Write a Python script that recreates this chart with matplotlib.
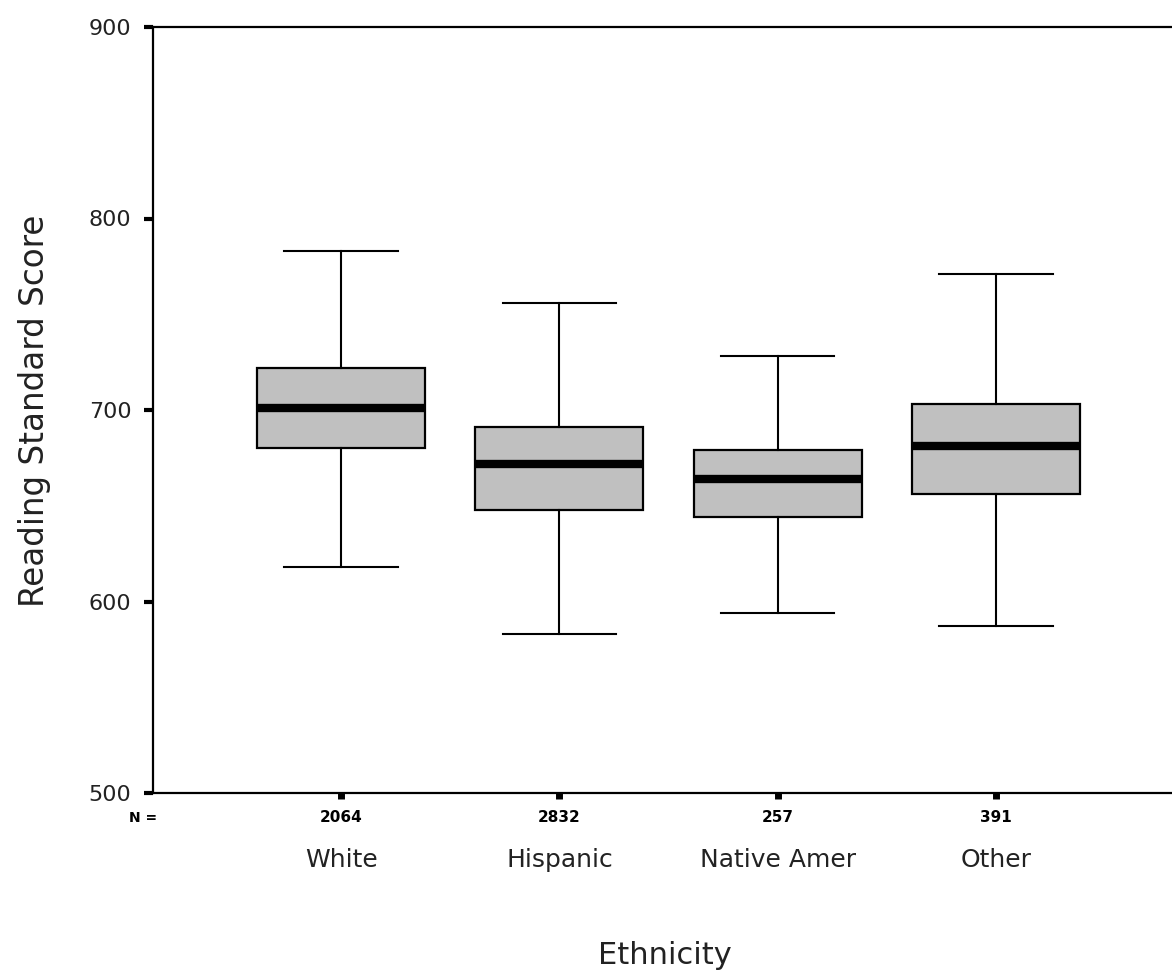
import matplotlib
matplotlib.use("Agg")
import matplotlib.pyplot as plt

plt.rcParams['font.family'] = ['DejaVu Sans']

# group summaries
groups = ["White", "Hispanic", "Native Amer", "Other"]
counts = [2064, 2832, 257, 391]
whisker_low = [618, 583, 594, 587]
q1 = [680, 648, 644, 656]
median = [701, 672, 664, 681]
q3 = [722, 691, 679, 703]
whisker_high = [783, 756, 728, 771]

stats = []
for i in range(len(groups)):
    stats.append({
        "whislo": whisker_low[i],
        "q1": q1[i],
        "med": median[i],
        "q3": q3[i],
        "whishi": whisker_high[i],
        "fliers": [],
        "label": groups[i],
    })

fig = plt.figure(figsize=(11.72, 9.76), dpi=100)
ax = fig.add_axes([153 / 1172, 1 - 793 / 976, 1 - 153 / 1172 + 0.02, (793 - 27) / 976])

positions = [1, 2, 3, 4]
ax.bxp(stats, positions=positions, widths=0.77, patch_artist=True,
       showfliers=False,
       boxprops=dict(facecolor="#c0c0c0", edgecolor="black", linewidth=1.6),
       medianprops=dict(color="black", linewidth=6, solid_capstyle="butt"),
       whiskerprops=dict(color="black", linewidth=1.5),
       capprops=dict(color="black", linewidth=1.5),
       capwidths=0.52)

ax.set_ylim(500, 900)
ax.set_xlim(1 - 188 / 218, 4 + 176 / 218 + 0.02 * 1172 / 218)
ax.set_yticks([500, 600, 700, 800, 900])
ax.tick_params(axis="y", direction="out", length=6.5, width=3, labelsize=16, pad=9,
               colors="black", labelcolor="#222222")
ax.tick_params(axis="x", direction="out", length=4, width=5, labelsize=1, labelbottom=False)
ax.set_xticks(positions)
ax.spines["right"].set_visible(False)
for s in ["top", "left", "bottom"]:
    ax.spines[s].set_linewidth(1.6)

# counts row and group names under the axis
for p, n, g in zip(positions, counts, groups):
    ax.annotate(str(n), xy=(p, 0), xycoords=("data", "axes fraction"),
                xytext=(0, -18), textcoords="offset points", ha="center", va="center",
                fontsize=11, fontweight="bold")
    ax.annotate(g, xy=(p, 0), xycoords=("data", "axes fraction"),
                xytext=(0, -48), textcoords="offset points", ha="center", va="center",
                fontsize=18, color="#222222")
ax.annotate("N =", xy=(0, 0), xycoords="axes fraction",
            xytext=(-7, -18), textcoords="offset points", ha="center", va="center",
            fontsize=10, fontweight="bold")

fig.text(665 / 1172, 1 - 955 / 976, "Ethnicity", ha="center", va="center",
         fontsize=22, color="#222222")
fig.text(35 / 1172, 1 - 411 / 976, "Reading Standard Score", ha="center", va="center",
         rotation=90, fontsize=23.5, color="#222222")

fig.savefig("out.png", dpi=100, facecolor="white")
